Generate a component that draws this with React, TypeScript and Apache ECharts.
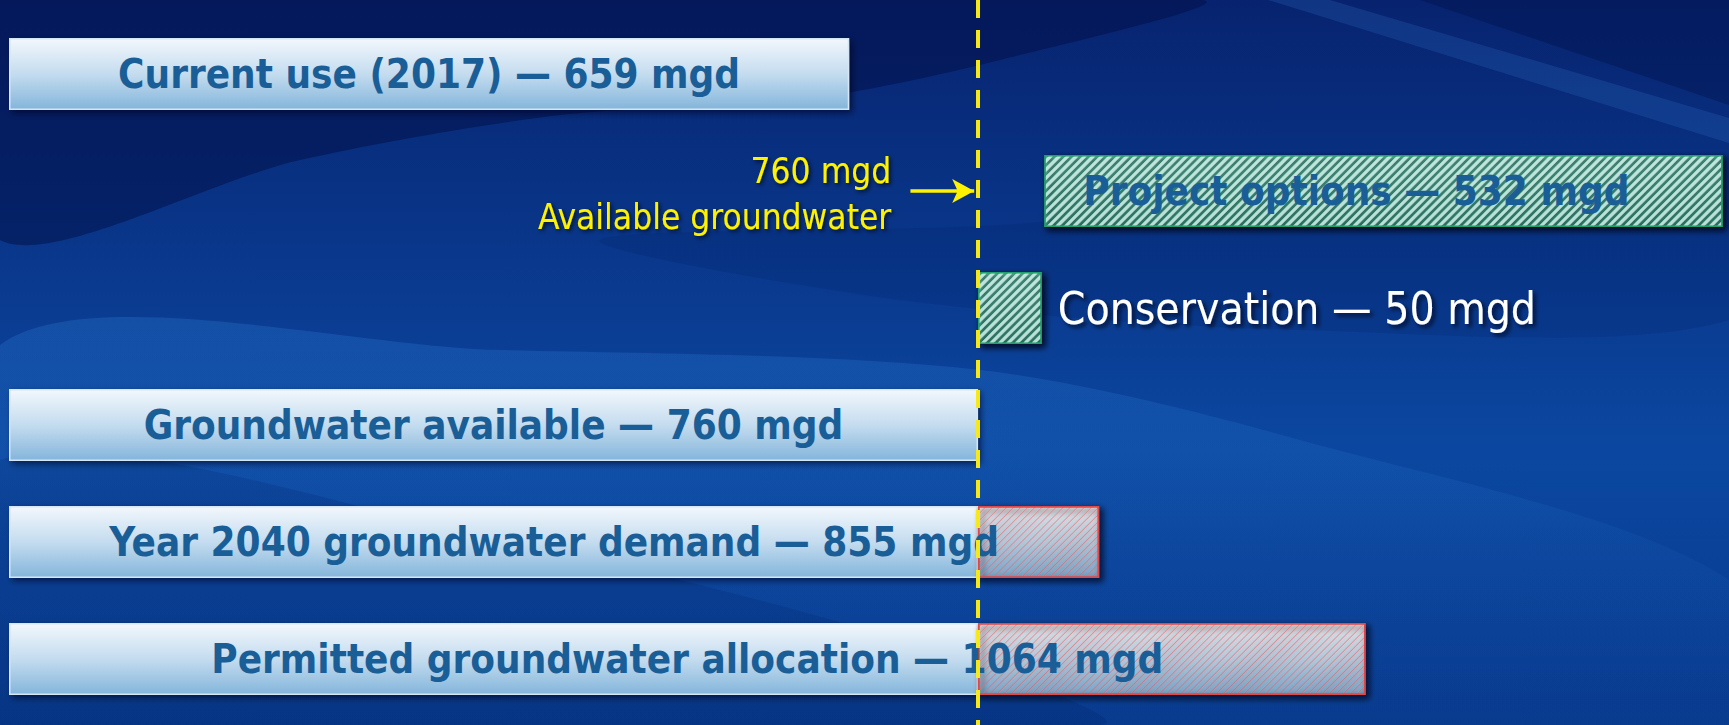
import React, { useEffect, useRef } from "react";
import * as echarts from "echarts";

const categories = [
  "Current use (2017)",
  "Project options",
  "Conservation",
  "Groundwater available",
  "Year 2040 groundwater demand",
  "Permitted groundwater allocation",
];
const barLabels = [
  "Current use (2017) — 659 mgd",
  "Project options — 532 mgd",
  "Conservation — 50 mgd",
  "Groundwater available — 760 mgd",
  "Year 2040 groundwater demand — 855 mgd",
  "Permitted groundwater allocation — 1064 mgd",
];
const baseValues: (number | string)[] = [659, "-", "-", 760, 760, 760];
const offsetValues: (number | string)[] = ["-", 812, 760, "-", "-", "-"];
const greenValues: (number | string)[] = ["-", 532, 50, "-", "-", "-"];
const excessValues: (number | string)[] = ["-", "-", "-", "-", 95, 304];
const totalValues: (number | string)[] = [659, "-", "-", 760, 855, 1064];
const availableGroundwater = 760;
const arrowFrom = 707;
const arrowTo = 757;
const annotationX = 692;
const xMax = 1349;

const FONT = "'DejaVu Sans Condensed', 'Liberation Sans Narrow', sans-serif";
const YELLOW = "#fff200";
const TEXT_BLUE = "#1a5e97";

const barGradient = new echarts.graphic.LinearGradient(0, 0, 0, 1, [
  { offset: 0, color: "#f2f7fc" },
  { offset: 0.5, color: "#c4dcef" },
  { offset: 1, color: "#84b5db" },
]);
const tealGradient = new echarts.graphic.LinearGradient(0, 0, 0, 1, [
  { offset: 0, color: "#6ccfb7" },
  { offset: 1, color: "#46ae95" },
]);

const shadow = {
  shadowBlur: 6,
  shadowOffsetX: 3,
  shadowOffsetY: 3,
  shadowColor: "rgba(0,5,30,0.6)",
};

const hatch = (color: string, line: number, gap: number) => ({
  symbol: "rect",
  symbolSize: 1,
  rotation: -Math.PI / 4,
  dashArrayX: [[1, 0]],
  dashArrayY: [line, gap],
  color,
});

export default function App() {
  const ref = useRef<HTMLDivElement>(null);
  useEffect(() => {
    if (!ref.current) return;
    const chart = echarts.init(ref.current, null, { renderer: "svg" });

    const greenData = greenValues.map((v, i) => {
      if (v === "-") return v;
      if (i === 1) {
        return {
          value: v,
          label: {
            show: true,
            position: "insideLeft",
            distance: 39,
            formatter: barLabels[i],
            color: TEXT_BLUE,
            fontSize: 40,
            fontWeight: "bold",
            fontFamily: FONT,
          },
        };
      }
      return {
        value: v,
        label: {
          show: true,
          position: "right",
          distance: 16,
          formatter: barLabels[i],
          color: "#ffffff",
          fontSize: 44,
          fontFamily: FONT,
          textShadowColor: "rgba(0,0,20,0.7)",
          textShadowBlur: 4,
          textShadowOffsetX: 3,
          textShadowOffsetY: 3,
        },
      };
    });

    const bgEl = (points: number[][], fill: any, smooth = 0.3) => ({
      type: "polygon",
      z: -100,
      silent: true,
      shape: { smooth, points },
      style: { fill },
    });

    const option: any = {
      animation: false,
      backgroundColor: new echarts.graphic.LinearGradient(0, 0, 0, 1, [
        { offset: 0, color: "#07236f" },
        { offset: 0.45, color: "#0a3d93" },
        { offset: 0.62, color: "#0b47a0" },
        { offset: 1, color: "#08398d" },
      ]),
      graphic: {
        elements: [
          bgEl(
            [[0, 0], [1200, 0], [1000, 60], [800, 100], [560, 115], [300, 160], [0, 240]],
            "rgba(2,14,70,0.5)"
          ),
          bgEl(
            [
              [0, 345], [500, 350], [980, 370], [1300, 440], [1729, 580],
              [1729, 725], [0, 725],
            ],
            new echarts.graphic.LinearGradient(0, 0, 0, 1, [
              { offset: 0, color: "rgba(50,135,225,0.26)" },
              { offset: 0.5, color: "rgba(50,135,225,0.08)" },
              { offset: 1, color: "rgba(50,135,225,0)" },
            ])
          ),
          bgEl(
            [[0, 460], [500, 540], [900, 640], [1100, 725], [0, 725]],
            "rgba(0,25,90,0.16)"
          ),
          bgEl([[1268, 0], [1729, 143], [1729, 118], [1330, 0]], "rgba(70,150,235,0.16)", 0),
          bgEl([[1420, 0], [1729, 0], [1729, 105]], "rgba(0,10,60,0.3)", 0),
          bgEl(
            [[600, 240], [1000, 225], [1400, 190], [1729, 200], [1729, 320], [1300, 330], [900, 300]],
            "rgba(0,15,70,0.12)"
          ),
        ],
      },
      grid: [
        { left: 9, right: 0, top: 15.5, height: 702, containLabel: false },
        { left: 9, right: 0, top: 0, height: 725, containLabel: false },
      ],
      xAxis: [
        { type: "value", min: 0, max: xMax, show: false, gridIndex: 0 },
        { type: "value", min: 0, max: xMax, show: false, gridIndex: 1 },
      ],
      yAxis: [
        { type: "category", data: categories, inverse: true, show: false, gridIndex: 0 },
        { type: "value", min: 0, max: 1, show: false, gridIndex: 1 },
      ],
      series: [
        {
          type: "bar",
          name: "base",
          stack: "total",
          barWidth: 72,
          barGap: "-100%",
          z: 2,
          data: baseValues,
          itemStyle: {
            color: barGradient,
            borderColor: "#d5e6f4",
            borderWidth: 1.5,
            ...shadow,
          },
        },
        {
          type: "bar",
          name: "offset",
          stack: "total",
          barWidth: 72,
          barGap: "-100%",
          z: 2,
          data: offsetValues,
          itemStyle: { color: "transparent" },
          markLine: {
            silent: true,
            symbol: ["none", "arrow"],
            symbolSize: [18, 22],
            lineStyle: { color: YELLOW, width: 3.5, type: "solid" },
            label: { show: false },
            data: [
              [
                { coord: [arrowFrom, categories[1]] },
                { coord: [arrowTo, categories[1]] },
              ],
            ],
          },
          markPoint: {
            silent: true,
            data: [
              {
                coord: [annotationX, categories[1]],
                symbol: "circle",
                symbolSize: 1,
                itemStyle: { color: "transparent" },
                label: {
                  show: true,
                  position: "inside",
                  align: "right",
                  verticalAlign: "middle",
                  offset: [0, 3],
                  formatter: "760 mgd\nAvailable groundwater",
                  color: YELLOW,
                  fontSize: 35,
                  lineHeight: 46,
                  fontFamily: FONT,
                  textShadowColor: "rgba(0,0,20,0.7)",
                  textShadowBlur: 4,
                  textShadowOffsetX: 2,
                  textShadowOffsetY: 2,
                },
              },
            ],
          },
        },
        {
          type: "bar",
          name: "green",
          stack: "total",
          barWidth: 72,
          barGap: "-100%",
          z: 2,
          data: greenData,
          itemStyle: {
            color: tealGradient,
            borderColor: "#23a06b",
            borderWidth: 1.5,
            decal: hatch("rgba(225,250,245,0.7)", 2.2, 2.8),
            ...shadow,
          },
        },
        {
          type: "bar",
          name: "excess",
          stack: "total",
          barWidth: 72,
          barGap: "-100%",
          z: 2,
          data: excessValues,
          itemStyle: {
            color: barGradient,
            borderColor: "#e0484a",
            borderWidth: 1.5,
            decal: hatch("rgba(228,78,82,0.5)", 1, 3.2),
            ...shadow,
          },
        },
        {
          type: "bar",
          name: "labels",
          barWidth: 72,
          barGap: "-100%",
          z: 3,
          silent: true,
          data: totalValues,
          itemStyle: { color: "transparent" },
          label: {
            show: true,
            position: "inside",
            formatter: (p: any) => barLabels[p.dataIndex],
            color: TEXT_BLUE,
            fontSize: 40,
            fontWeight: "bold",
            fontFamily: FONT,
          },
        },
        {
          type: "line",
          name: "available",
          xAxisIndex: 1,
          yAxisIndex: 1,
          z: 10,
          silent: true,
          showSymbol: false,
          symbol: "none",
          data: [
            [availableGroundwater, 1],
            [availableGroundwater, 0],
          ],
          lineStyle: { color: "#f7e81a", width: 4, type: [18, 12] },
        },
      ],
    };
    chart.setOption(option);
    return () => chart.dispose();
  }, []);
  return (
    <div
      ref={ref}
      style={{ position: "fixed", left: 0, top: 0, width: 1729, height: 725 }}
    />
  );
}
